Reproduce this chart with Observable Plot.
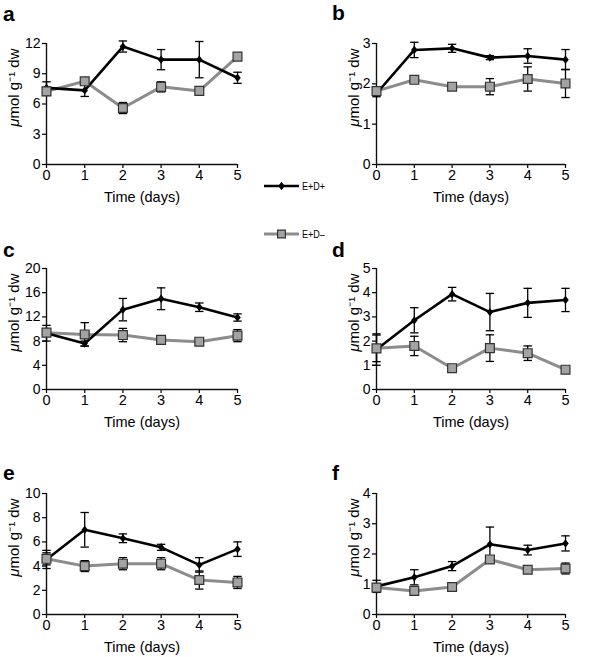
<!DOCTYPE html>
<html>
<head>
<meta charset="utf-8">
<script src="https://cdn.jsdelivr.net/npm/d3@7"></script>
<script src="https://cdn.jsdelivr.net/npm/@observablehq/plot@0.6"></script>
<style>
  body { margin: 0; background: #fff; }
  #wrap { position: relative; width: 600px; height: 657px; overflow: hidden; background: #fff;
          font-family: "Liberation Sans", Arial, Helvetica, sans-serif; }
  .panel { position: absolute; }
  #overlay { position: absolute; left: 0; top: 0; pointer-events: none; }
</style>
</head>
<body>
<div id="wrap"></div>
<script>
// ---------- data ----------
const days = [0, 1, 2, 3, 4, 5];
const seriesNames = ["E+D+", "E+D\u2013"];
const panelLetters = ["a", "b", "c", "d", "e", "f"];
const yLabel = "\u03bcmol g\u207b\u00b9 dw";
const xLabel = "Time (days)";

const a_plus = [7.6, 7.35, 11.7, 10.4, 10.4, 8.6];
const a_plus_se = [0.6, 0.6, 0.55, 1.0, 1.8, 0.55];
const a_minus = [7.25, 8.25, 5.6, 7.7, 7.3, 10.7];
const a_minus_se = [0.4, 0.3, 0.55, 0.5, 0.3, 0.3];
const a_yticks = [0, 3, 6, 9, 12];

const b_plus = [1.76, 2.84, 2.88, 2.65, 2.69, 2.6];
const b_plus_se = [0.08, 0.19, 0.1, 0.05, 0.18, 0.25];
const b_minus = [1.82, 2.1, 1.93, 1.93, 2.12, 2.01];
const b_minus_se = [0.05, 0.05, 0.08, 0.2, 0.3, 0.35];
const b_yticks = [0, 1, 2, 3];

const c_plus = [9.3, 7.6, 13.2, 15.0, 13.6, 11.9];
const c_plus_se = [1.3, 0.4, 1.85, 1.8, 0.7, 0.6];
const c_minus = [9.4, 9.1, 9.0, 8.2, 7.9, 8.9];
const c_minus_se = [0.5, 1.95, 1.1, 0.3, 0.4, 1.0];
const c_yticks = [0, 4, 8, 12, 16, 20];

const d_plus = [1.65, 2.86, 3.94, 3.2, 3.58, 3.7];
const d_plus_se = [0.65, 0.52, 0.28, 0.77, 0.6, 0.48];
const d_minus = [1.7, 1.8, 0.88, 1.71, 1.5, 0.82];
const d_minus_se = [0.55, 0.4, 0.05, 0.55, 0.3, 0.05];
const d_yticks = [0, 1, 2, 3, 4, 5];

const e_plus = [4.55, 7.0, 6.3, 5.55, 4.1, 5.4];
const e_plus_se = [0.75, 1.43, 0.36, 0.25, 0.6, 0.6];
const e_minus = [4.6, 4.0, 4.2, 4.2, 2.85, 2.65];
const e_minus_se = [0.5, 0.45, 0.5, 0.5, 0.75, 0.5];
const e_yticks = [0, 2, 4, 6, 8, 10];

const f_plus = [0.93, 1.23, 1.6, 2.32, 2.13, 2.35];
const f_plus_se = [0.2, 0.25, 0.15, 0.57, 0.16, 0.25];
const f_minus = [0.89, 0.78, 0.91, 1.82, 1.48, 1.52];
const f_minus_se = [0.1, 0.05, 0.06, 0.1, 0.07, 0.18];
const f_yticks = [0, 1, 2, 3, 4];

// ---------- layout / style ----------
const FONT = '"Liberation Sans", Arial, Helvetica, sans-serif';
const BLACK = "#000";
const GRAY_LINE = "#8c8c8c";
const GRAY_FILL = "#a3a3a3";

const diamondSym = {
  draw(ctx, size) {
    const r = Math.sqrt(size / Math.PI);
    ctx.moveTo(0, -r * 1.15); ctx.lineTo(r * 0.9, 0); ctx.lineTo(0, r * 1.15); ctx.lineTo(-r * 0.9, 0); ctx.closePath();
  }
};
const capSym = {
  draw(ctx, size) {
    const r = Math.sqrt(size / Math.PI);
    ctx.moveTo(-r, 0); ctx.lineTo(r, 0);
  }
};

const panels = [
  {letter: panelLetters[0], plus: a_plus, plusSE: a_plus_se, minus: a_minus, minusSE: a_minus_se, yticks: a_yticks, col: 0, row: 0},
  {letter: panelLetters[1], plus: b_plus, plusSE: b_plus_se, minus: b_minus, minusSE: b_minus_se, yticks: b_yticks, col: 1, row: 0},
  {letter: panelLetters[2], plus: c_plus, plusSE: c_plus_se, minus: c_minus, minusSE: c_minus_se, yticks: c_yticks, col: 0, row: 1},
  {letter: panelLetters[3], plus: d_plus, plusSE: d_plus_se, minus: d_minus, minusSE: d_minus_se, yticks: d_yticks, col: 1, row: 1},
  {letter: panelLetters[4], plus: e_plus, plusSE: e_plus_se, minus: e_minus, minusSE: e_minus_se, yticks: e_yticks, col: 0, row: 2},
  {letter: panelLetters[5], plus: f_plus, plusSE: f_plus_se, minus: f_minus, minusSE: f_minus_se, yticks: f_yticks, col: 1, row: 2}
];

const colGeom = [
  {left: 0, width: 260, marginLeft: 46, marginRight: 23, labelDx: -38},
  {left: 300, width: 300, marginLeft: 76, marginRight: 35, labelDx: -28}
];
const rowTop = [0, 225, 450];
const letterPos = [[3, 21], [332, 20], [3, 257], [332, 257], [3, 480], [332, 480]];

const wrap = document.getElementById("wrap");

panels.forEach((p) => {
  const g = colGeom[p.col];
  const plusData = days.map((x, i) => ({x, y: p.plus[i], lo: p.plus[i] - p.plusSE[i], hi: p.plus[i] + p.plusSE[i]}));
  const minusData = days.map((x, i) => ({x, y: p.minus[i], lo: p.minus[i] - p.minusSE[i], hi: p.minus[i] + p.minusSE[i]}));
  const ymax = p.yticks[p.yticks.length - 1];

  const chart = Plot.plot({
    width: g.width,
    height: 210,
    marginLeft: g.marginLeft,
    marginRight: g.marginRight,
    marginTop: 43,
    marginBottom: 46,
    style: {fontFamily: FONT, fontSize: "14px", color: "#000", background: "transparent", overflow: "visible"},
    x: {domain: [0, 5]},
    y: {domain: [0, ymax]},
    marks: [
      Plot.axisY({ticks: p.yticks, tickFormat: d3.format("d"), tickSize: 4, tickPadding: 2, label: null, fontSize: 14, strokeWidth: 1.2}),
      Plot.axisX({ticks: days, tickFormat: d3.format("d"), tickSize: 4, tickPadding: 1, label: xLabel, labelAnchor: "center", labelArrow: "none", labelOffset: 37, fontSize: 14.5, strokeWidth: 1.2}),
      Plot.ruleX([0], {stroke: "#111", strokeWidth: 1.4}),
      Plot.ruleY([0], {stroke: "#111", strokeWidth: 1.4}),
      Plot.text([yLabel], {frameAnchor: "top-left", rotate: -90, textAnchor: "end", dx: g.labelDx, dy: 5, fontSize: 15}),
      Plot.line(minusData, {x: "x", y: "y", stroke: GRAY_LINE, strokeWidth: 3}),
      Plot.line(plusData, {x: "x", y: "y", stroke: BLACK, strokeWidth: 2.6}),
      Plot.ruleX(plusData, {x: "x", y1: "lo", y2: "hi", stroke: BLACK, strokeWidth: 1.3}),
      Plot.ruleX(minusData, {x: "x", y1: "lo", y2: "hi", stroke: BLACK, strokeWidth: 1.3}),
      Plot.dot(plusData, {x: "x", y: "hi", symbol: capSym, r: 4.2, stroke: BLACK, strokeWidth: 1.3, fill: "none"}),
      Plot.dot(plusData, {x: "x", y: "lo", symbol: capSym, r: 4.2, stroke: BLACK, strokeWidth: 1.3, fill: "none"}),
      Plot.dot(minusData, {x: "x", y: "hi", symbol: capSym, r: 4.2, stroke: BLACK, strokeWidth: 1.3, fill: "none"}),
      Plot.dot(minusData, {x: "x", y: "lo", symbol: capSym, r: 4.2, stroke: BLACK, strokeWidth: 1.3, fill: "none"}),
      Plot.dot(plusData, {x: "x", y: "y", symbol: diamondSym, r: 3.6, fill: BLACK, stroke: "none"}),
      Plot.dot(minusData, {x: "x", y: "y", symbol: "square", r: 5.0, fill: GRAY_FILL, stroke: "#333", strokeWidth: 1.2})
    ]
  });
  // italic mu in the y label, as in the reference
  d3.select(chart).selectAll("text").filter(function () { return this.textContent === yLabel; })
    .each(function () {
      const t = d3.select(this);
      t.text(null);
      t.append("tspan").attr("font-style", "italic").text(yLabel.slice(0, 1));
      t.append("tspan").text(yLabel.slice(1));
    });
  chart.classList.add("panel");
  chart.style.left = g.left + "px";
  chart.style.top = rowTop[p.row] + "px";
  wrap.appendChild(chart);
});

// ---------- overlay: panel letters + legend ----------
const svg = d3.select(wrap).append("svg")
  .attr("id", "overlay").attr("width", 600).attr("height", 657);

panels.forEach((p, i) => {
  svg.append("text").attr("x", letterPos[i][0]).attr("y", letterPos[i][1])
    .attr("font-family", FONT).attr("font-weight", "bold").attr("font-size", 21)
    .text(p.letter);
});

const legendItems = [
  {name: seriesNames[0], stroke: BLACK, width: 2.6, sym: diamondSym, r: 3.6, fill: BLACK, symStroke: "none", y: 186},
  {name: seriesNames[1], stroke: GRAY_LINE, width: 3, sym: d3.symbolSquare, r: 4.4, fill: GRAY_FILL, symStroke: "#333", y: 234}
];
legendItems.forEach((it) => {
  const g = svg.append("g").attr("transform", `translate(0,${it.y})`);
  g.append("line").attr("x1", 264).attr("x2", 299).attr("stroke", it.stroke).attr("stroke-width", it.width);
  g.append("path").attr("transform", "translate(281.5,0)")
    .attr("d", d3.symbol(it.sym, Math.PI * it.r * it.r)())
    .attr("fill", it.fill).attr("stroke", it.symStroke).attr("stroke-width", 1.2);
  g.append("text").attr("transform", "translate(302,0) scale(0.82,1)").attr("dy", "0.35em")
    .attr("font-family", FONT)
    .attr("font-size", 11).text(it.name);
});
</script>
</body>
</html>
